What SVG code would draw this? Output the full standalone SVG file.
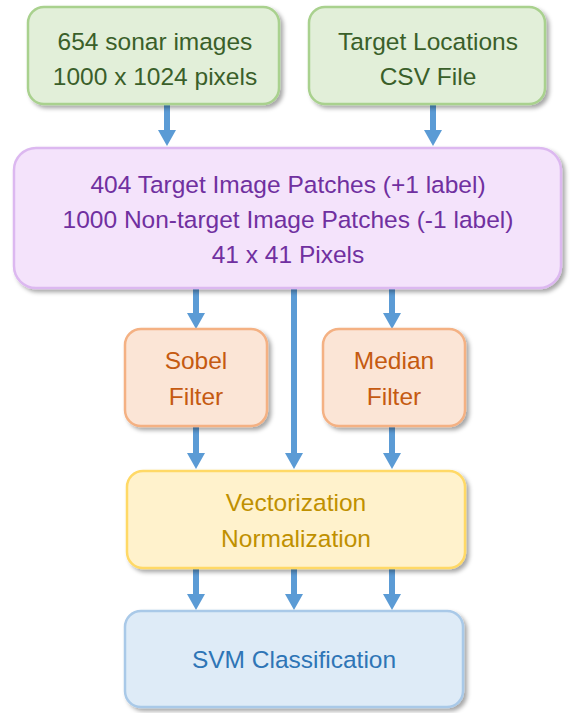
<svg xmlns="http://www.w3.org/2000/svg" width="570" height="713" viewBox="0 0 570 713">
  <defs>
    <filter id="shadow" x="-10%" y="-10%" width="125%" height="130%">
      <feDropShadow dx="3" dy="3" stdDeviation="2.2" flood-color="#000" flood-opacity="0.35"/>
    </filter>
    <!-- triangular head, drawn along +x so orient="auto" points it down the line -->
    <marker id="arrow" viewBox="0 0 16 18" refX="0" refY="9" markerWidth="16" markerHeight="18" markerUnits="userSpaceOnUse" orient="auto">
      <path d="M0,0 L16,9 L0,18 Z" fill="#5b9bd5"/>
    </marker>
  </defs>
  <style>
    .box { stroke-width: 2.5; filter: url(#shadow); }
    .green { fill: #e2efd9; stroke: #a9d18e; }
    .purple { fill: #f4e3fb; stroke: #dcb8f0; }
    .orange { fill: #fbe5d6; stroke: #f4b183; }
    .yellow { fill: #fff2cc; stroke: #ffd966; }
    .blue { fill: #deebf7; stroke: #a9c9e8; }
    text { font-family: "Liberation Sans", Arial, sans-serif; font-size: 24.5px; text-anchor: middle; }
    .tgreen { fill: #3a5f2a; }
    .tpurple { fill: #7030a0; }
    .torange { fill: #c55a11; }
    .tyellow { fill: #bf9000; }
    .tblue { fill: #2e75b6; }
    .conn line { stroke: #5b9bd5; stroke-width: 6; marker-end: url(#arrow); }
  </style>

  <!-- each line stops at the arrowhead base; the 16px head reaches the target box -->
  <g id="connectors" class="conn">
    <line x1="167" y1="104" x2="167" y2="130"/>
    <line x1="433" y1="104" x2="433" y2="130"/>
    <line x1="196" y1="289" x2="196" y2="313"/>
    <line x1="392" y1="289" x2="392" y2="313"/>
    <line x1="294" y1="289" x2="294" y2="453"/>
    <line x1="196" y1="426" x2="196" y2="453"/>
    <line x1="392" y1="426" x2="392" y2="453"/>
    <line x1="196" y1="568" x2="196" y2="594"/>
    <line x1="294" y1="568" x2="294" y2="594"/>
    <line x1="392" y1="568" x2="392" y2="594"/>
  </g>

  <g id="sonar-images">
    <rect class="box green" x="28" y="7" width="251" height="97" rx="16"/>
    <text class="tgreen" x="155" y="50">654 sonar images</text>
    <text class="tgreen" x="155" y="85">1000 x 1024 pixels</text>
  </g>

  <g id="target-locations">
    <rect class="box green" x="309" y="7" width="236" height="97" rx="16"/>
    <text class="tgreen" x="428" y="50">Target Locations</text>
    <text class="tgreen" x="428" y="85">CSV File</text>
  </g>

  <g id="image-patches">
    <rect class="box purple" x="14" y="148" width="547" height="140" rx="22"/>
    <text class="tpurple" x="288" y="193">404 Target Image Patches (+1 label)</text>
    <text class="tpurple" x="288" y="228">1000 Non-target Image Patches (-1 label)</text>
    <text class="tpurple" x="288" y="263">41 x 41 Pixels</text>
  </g>

  <g id="sobel-filter">
    <rect class="box orange" x="125" y="329" width="142" height="97" rx="16"/>
    <text class="torange" x="196" y="369">Sobel</text>
    <text class="torange" x="196" y="405">Filter</text>
  </g>

  <g id="median-filter">
    <rect class="box orange" x="323" y="329" width="142" height="97" rx="16"/>
    <text class="torange" x="394" y="369">Median</text>
    <text class="torange" x="394" y="405">Filter</text>
  </g>

  <g id="vectorization">
    <rect class="box yellow" x="127" y="471" width="338" height="97" rx="16"/>
    <text class="tyellow" x="296" y="511">Vectorization</text>
    <text class="tyellow" x="296" y="547">Normalization</text>
  </g>

  <g id="svm-classification">
    <rect class="box blue" x="125" y="611" width="338" height="96" rx="16"/>
    <text class="tblue" x="294" y="668">SVM Classification</text>
  </g>
</svg>
